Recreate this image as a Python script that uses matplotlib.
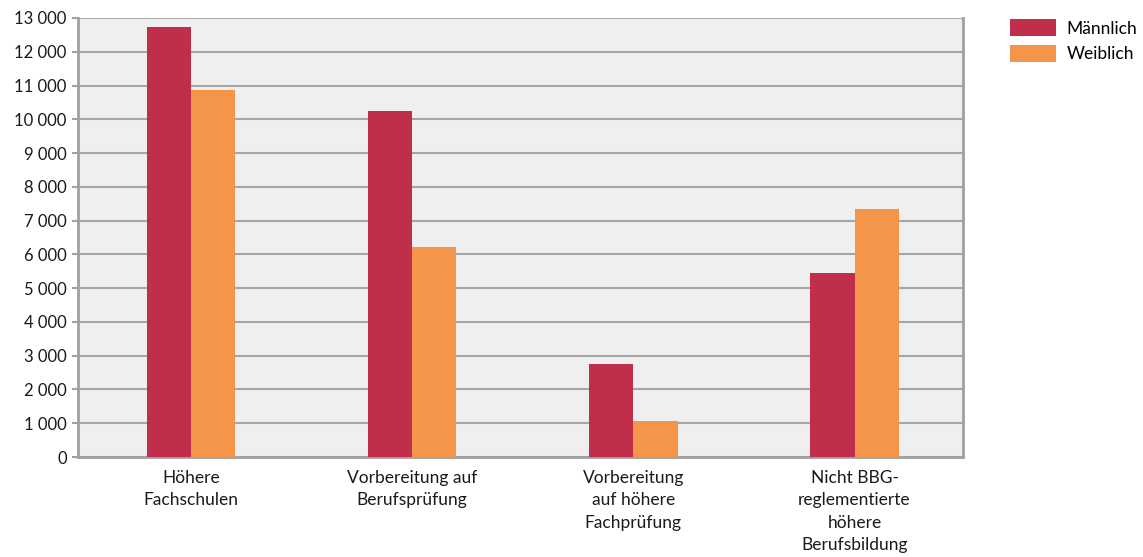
import matplotlib
matplotlib.use("Agg")
import matplotlib.pyplot as plt
import numpy as np
from matplotlib.ticker import FuncFormatter, MultipleLocator
from matplotlib.patches import Patch

categories = [
    "Höhere\nFachschulen",
    "Vorbereitung auf\nBerufsprüfung",
    "Vorbereitung\nauf höhere\nFachprüfung",
    "Nicht BBG-\nreglementierte\nhöhere\nBerufsbildung",
]
maennlich = [12720, 10260, 2750, 5450]
weiblich = [10880, 6230, 1060, 7350]
series_names = ["Männlich", "Weiblich"]
colors = ["#c02e4c", "#f4954a"]

plt.rcParams["font.family"] = ["Lato", "DejaVu Sans"]

fig = plt.figure(figsize=(11.43, 5.57), dpi=100)
ax = fig.add_axes([0.0682, 0.1795, 0.7743, 0.7882])
ax.set_facecolor("#efefef")

x = np.arange(len(categories))
w = 0.2
ax.bar(x - w / 2, maennlich, width=w, color=colors[0], zorder=3)
ax.bar(x + w / 2, weiblich, width=w, color=colors[1], zorder=3)

ax.set_xlim(-0.51, len(categories) - 0.51)
ax.set_ylim(0, 13000)
ax.yaxis.set_major_locator(MultipleLocator(1000))
ax.yaxis.set_major_formatter(
    FuncFormatter(lambda v, p: f"{int(v):,}".replace(",", " "))
)
ax.set_xticks(x)
ax.set_xticklabels(categories, fontsize=12.5, linespacing=1.5, color="#1a1a1a")
ax.tick_params(axis="x", length=0, pad=9)
ax.tick_params(axis="y", length=4, width=1.5, color="#a0a0a0",
               labelsize=12, labelcolor="#1a1a1a", pad=4)

ax.grid(axis="y", color="#a6a6a6", linewidth=1.5, zorder=1)
for side in ["left", "bottom", "right"]:
    ax.spines[side].set_color("#a0a0a0")
    ax.spines[side].set_linewidth(2)
ax.spines["top"].set_visible(False)

handles = [Patch(facecolor=c, edgecolor="none") for c in colors]
fig.legend(handles, series_names, loc="upper left",
           bbox_to_anchor=(0.878, 0.978), borderaxespad=0, frameon=False,
           fontsize=12.5, handlelength=2.6, handleheight=1.15,
           handletextpad=0.63, labelspacing=0.46)

fig.savefig("out.png", dpi=100, facecolor="white")
